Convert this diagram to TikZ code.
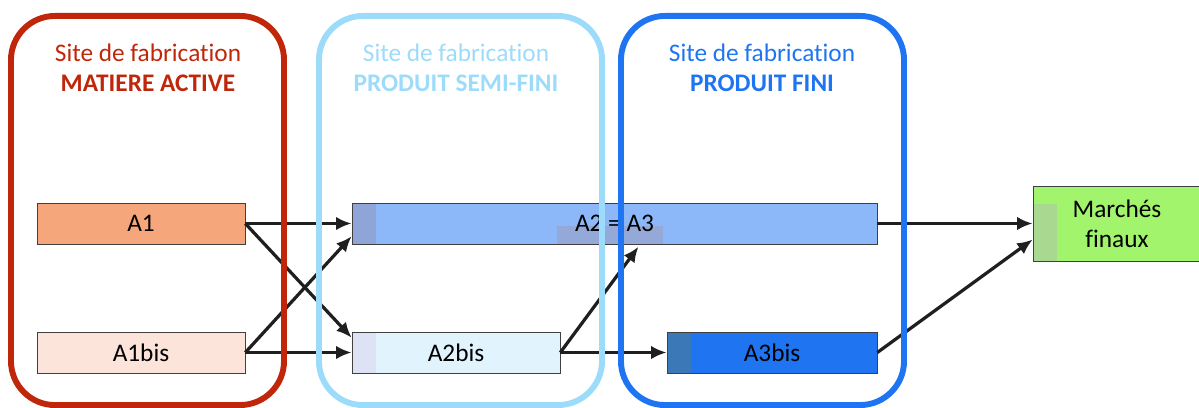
\documentclass[tikz,border=0pt]{standalone}
\usepackage{fontspec}
\setmainfont[Ligatures=NoCommon]{Carlito}
\usetikzlibrary{arrows.meta}

\definecolor{rougeMA}{HTML}{C0270A}
\definecolor{bleuPSF}{HTML}{9DDBFB}
\definecolor{bleuPF}{HTML}{1F75F1}
\definecolor{fondAun}{HTML}{F6A67B}
\definecolor{fondAunbis}{HTML}{FCE4DA}
\definecolor{fondAdeux}{HTML}{8CB8F9}
\definecolor{fondAdeuxbis}{HTML}{E1F4FD}
\definecolor{fondAtroisbis}{HTML}{1F74F1}
\definecolor{fondMarche}{HTML}{A3F46D}
% zones plus sombres dans les boites
\definecolor{ombreAdeux}{HTML}{8FA4D7}
\definecolor{ombreTexte}{HTML}{95A9D8}
\definecolor{ombreAdeuxbis}{HTML}{DDE2F5}
\definecolor{ombreAtroisbis}{HTML}{3A78B8}
\definecolor{ombreMarche}{HTML}{A9D891}

\tikzset{
    boite/.style={
        rectangle,
        draw=black!75, % 细边框
        thin,
        minimum width=5.2cm,
        minimum height=1.025cm,
        inner sep=0,
        font=\fontsize{18}{21}\selectfont
    },
    cadre/.style={
        rectangle,
        rounded corners=1.1cm,
        line width=4.2pt, % 粗圆角框
        minimum width=7.075cm,
        minimum height=9.725cm,
        inner sep=0
    },
    titre/.style={
        align=center,
        font=\fontsize{18}{21}\selectfont
    },
    fleche/.style={
        -{Latex[length=11pt,width=9.5pt]},
        line width=2.3pt,
        black!88
    },
    ombre/.style={
        path picture={
            \fill[#1] (path picture bounding box.south west)
                rectangle ([xshift=0.6cm]path picture bounding box.north west);
        }
    }
}

\begin{document}
\begin{tikzpicture}[x=0.025cm,y=-0.025cm]
    \useasboundingbox (0,0) rectangle (1199,408);

    % 方框
    \node[boite, fill=fondAun] (A1) at (141,223.5) {A1};
    \node[boite, fill=fondAunbis] (A1bis) at (141,352.5) {A1bis};
    \node[boite, fill=fondAdeux, minimum width=13.125cm,
        path picture={
            \fill[ombreAdeux] (path picture bounding box.south west)
                rectangle ([xshift=0.6cm]path picture bounding box.north west);
            \fill[ombreTexte] ([shift={(-1.44cm,-0.06cm)}]path picture bounding box.center)
                rectangle ([shift={(1.21cm,-0.52cm)}]path picture bounding box.center);
        }] (A2) at (614.5,223.5) {A2 = A3};
    \node[boite, fill=fondAdeuxbis, ombre=ombreAdeuxbis] (A2bis) at (456,352.5) {A2bis};
    \node[boite, fill=fondAtroisbis, minimum width=5.25cm, ombre=ombreAtroisbis] (A3bis) at (772,352.5) {A3bis};
    \node[boite, fill=fondMarche, minimum width=4.4cm, minimum height=1.875cm,
        align=center, font=\fontsize{18}{21.3}\selectfont,
        path picture={
            \fill[ombreMarche] (path picture bounding box.south west)
                rectangle ([xshift=0.6cm,yshift=-0.45cm]path picture bounding box.north west);
        }] (marches) at (1121,223.5) {\hspace*{-0.2cm}Marchés\\\hspace*{-0.2cm}finaux};

    % 箭头
    \draw[fleche] (A1.east) -- (A2.west);
    \draw[fleche] (A1.east) -- ([yshift=-0.15cm]A2bis.north west);
    \draw[fleche] (A1bis.east) -- ([yshift=0.2cm]A2.south west);
    \draw[fleche] (A1bis.east) -- (A2bis.west);
    \draw[fleche] (A2bis.east) -- ([xshift=0.6cm,yshift=-0.06cm]A2.south);
    \draw[fleche] (A2bis.east) -- (A3bis.west);
    \draw[fleche] (A2.east) -- (marches.west);
    \draw[fleche] (A3bis.east) -- ([yshift=-0.4cm]marches.west);

    % 三个生产场地
    \node[cadre, draw=rougeMA, minimum width=6.825cm] (siteMA) at (147.5,210.5) {};
    \node[cadre, draw=bleuPSF] (sitePSF) at (460.5,210.5) {};
    \node[cadre, draw=bleuPF] (sitePF) at (762.5,210.5) {};

    \node[titre, text=rougeMA] (titreMA) at (148,68)
        {Site de fabrication\\\textbf{MATIERE ACTIVE}};
    \node[titre, text=bleuPSF] (titrePSF) at (456,68)
        {Site de fabrication\\\textbf{PRODUIT SEMI-FINI}};
    \node[titre, text=bleuPF] (titrePF) at (762,68)
        {Site de fabrication\\\textbf{PRODUIT FINI}};
\end{tikzpicture}
\end{document}
